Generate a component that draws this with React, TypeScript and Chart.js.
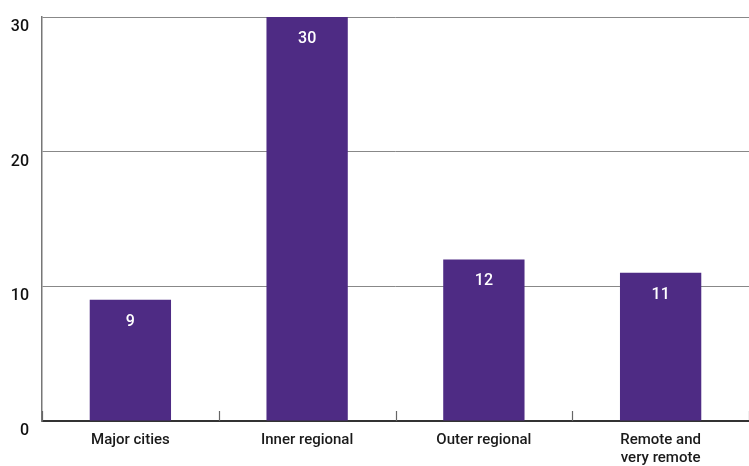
import React, { useEffect, useRef } from "react";
import { Chart, registerables } from "chart.js";

Chart.register(...registerables);

const categories: (string | string[])[] = [
  "Major cities",
  "Inner regional",
  "Outer regional",
  ["Remote and", "very remote"],
];
const values: number[] = [9, 30, 12, 11];
const yTicks: number[] = [0, 10, 20, 30];

const FONT = "Roboto, 'DejaVu Sans', sans-serif";

const barLabels = {
  id: "barLabels",
  afterDatasetsDraw(chart: any) {
    const ctx = chart.ctx;
    const meta = chart.getDatasetMeta(0);
    ctx.save();
    ctx.fillStyle = "#ffffff";
    ctx.font = `500 16px ${FONT}`;
    ctx.textAlign = "center";
    ctx.textBaseline = "middle";
    meta.data.forEach((bar: any, i: number) => {
      ctx.fillText(String(values[i]), bar.x, bar.y + 22);
    });
    ctx.restore();
  },
};

const boundaryTicks = {
  id: "boundaryTicks",
  afterDraw(chart: any) {
    const ctx = chart.ctx;
    const x = chart.scales.x;
    const bottom = chart.chartArea.bottom;
    const step = x.getPixelForValue(1) - x.getPixelForValue(0);
    ctx.save();
    ctx.strokeStyle = "#666666";
    ctx.lineWidth = 1.2;
    for (let i = 0; i <= categories.length; i++) {
      const px = x.getPixelForValue(0) - step / 2 + i * step;
      ctx.beginPath();
      ctx.moveTo(Math.round(px) + 0.5, bottom - 10);
      ctx.lineTo(Math.round(px) + 0.5, bottom);
      ctx.stroke();
    }
    ctx.restore();
  },
};

export default function App() {
  const ref = useRef<HTMLCanvasElement>(null);
  useEffect(() => {
    if (!ref.current) return;
    const chart = new Chart(ref.current, {
      type: "bar",
      data: {
        labels: categories,
        datasets: [
          {
            data: values,
            backgroundColor: "#4e2b84",
            borderWidth: 0,
            barPercentage: 0.46,
            categoryPercentage: 1,
          },
        ],
      },
      options: {
        animation: false,
        responsive: false,
        maintainAspectRatio: false,
        layout: { padding: { top: 17, right: 0, bottom: 0, left: 0 } },
        plugins: { legend: { display: false }, tooltip: { enabled: false } },
        scales: {
          x: {
            grid: { display: false, drawTicks: false },
            border: { display: true, color: "#333333", width: 2 },
            ticks: {
              color: "#1a1a1a",
              font: { family: FONT, size: 15, weight: 500 },
              padding: 10,
              maxRotation: 0,
              autoSkip: false,
            },
            afterFit: (s: any) => {
              s.height = 45;
              s.paddingLeft = 0;
              s.paddingRight = 0;
            },
          },
          y: {
            min: 0,
            max: 30,
            afterBuildTicks: (s: any) => {
              s.ticks = yTicks.map((v) => ({ value: v }));
            },
            grid: { color: "#888888", lineWidth: 1, drawTicks: false },
            border: { display: true, color: "#777777", width: 1.5 },
            ticks: {
              color: "#111111",
              font: { family: FONT, size: 16, weight: 500 },
              padding: 13,
              labelOffset: 10,
            },
            afterFit: (s: any) => {
              s.width = 42;
              s.paddingTop = 0;
              s.paddingBottom = 0;
            },
          },
        },
      },
      plugins: [barLabels, boundaryTicks],
    });
    return () => chart.destroy();
  }, []);
  return (
    <div style={{ position: "fixed", left: 0, top: 0, width: 749, height: 466, background: "#fff" }}>
      <canvas ref={ref} width={749} height={466} style={{ width: 749, height: 466 }} />
    </div>
  );
}
